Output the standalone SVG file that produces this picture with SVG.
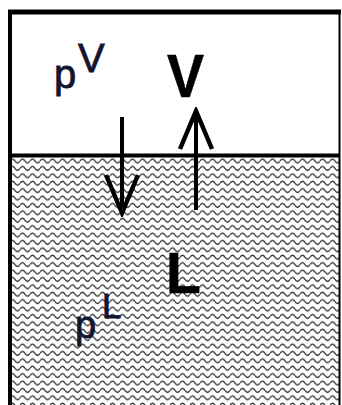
<svg xmlns="http://www.w3.org/2000/svg" width="342" height="405" viewBox="0 0 342 405">
  <style>
    .frame { stroke: #000; fill: none; }
    .lbl { font-family: "Liberation Sans", Arial, sans-serif; fill: #14142e; stroke: #14142e; stroke-width: 0.8; }
    .big { font-family: "Liberation Sans", Arial, sans-serif; font-weight: bold; fill: #000; stroke: #000; stroke-width: 0.6; }
    .arrow { stroke: #000; stroke-width: 4; fill: none; }
  </style>
  <defs>
    <pattern id="waves" patternUnits="userSpaceOnUse" x="0" y="157" width="10" height="7.4">
      <path d="M0,4 Q2.5,0.2 5,4 T10,4" stroke="#3c3c3c" stroke-width="1.4" fill="none"/>
    </pattern>
    <marker id="head" markerUnits="userSpaceOnUse" viewBox="-44 -22 48 44" refX="0" refY="0" markerWidth="48" markerHeight="44" orient="auto">
      <path d="M-38,-16 L0,0 L-38,16" stroke="#000" stroke-width="4.5" fill="none" stroke-linejoin="miter"/>
    </marker>
  </defs>
  <rect width="342" height="405" fill="#fff"/>
  <g id="liquid">
    <rect x="12" y="157" width="327" height="248" fill="url(#waves)"/>
  </g>
  <g id="vessel">
    <line class="frame" x1="8" y1="12" x2="341" y2="12" stroke-width="5"/>
    <line class="frame" x1="10" y1="10" x2="10" y2="405" stroke-width="4"/>
    <line class="frame" x1="339.5" y1="10" x2="339.5" y2="405" stroke-width="2"/>
    <line class="frame" x1="10" y1="155.5" x2="340" y2="155.5" stroke-width="4"/>
  </g>
  <g id="vapor-label">
    <text class="lbl" font-size="40"><tspan x="54" y="88">p</tspan><tspan x="78" y="72">V</tspan></text>
    <text class="big" x="167" y="97" font-size="62" textLength="37" lengthAdjust="spacingAndGlyphs">V</text>
  </g>
  <g id="liquid-label">
    <text class="lbl"><tspan x="75" y="338" font-size="38">p</tspan><tspan x="102" y="318" font-size="35">L</tspan></text>
    <text class="big" x="166" y="293" font-size="57">L</text>
  </g>
  <g id="connectors">
    <line class="arrow" x1="122" y1="117" x2="122" y2="213" marker-end="url(#head)"/>
    <line class="arrow" x1="196" y1="210" x2="196" y2="111" marker-end="url(#head)"/>
  </g>
</svg>
